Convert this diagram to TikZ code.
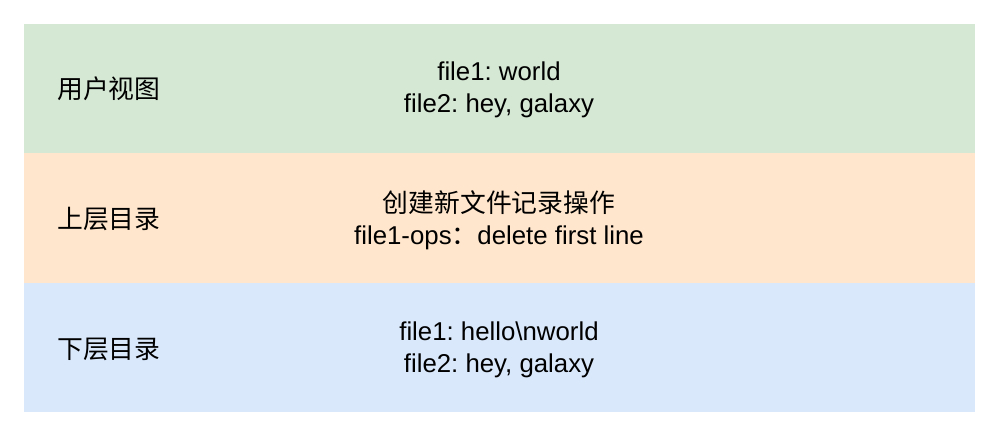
\documentclass[tikz,border=0pt]{standalone}
\usepackage{fontspec}
\setmainfont{Liberation Sans}
\newfontfamily\cjk{Noto Sans CJK SC}
\definecolor{bgreen}{HTML}{D5E8D4}
\definecolor{borange}{HTML}{FFE6CC}
\definecolor{bblue}{HTML}{DAE8FC}
\frenchspacing
\begin{document}
\begin{tikzpicture}[x=1pt,y=-1pt,
  band/.style={fill=#1,draw=none},
  lbl/.style={anchor=west,font=\cjk\fontsize{25.8}{30}\selectfont,inner sep=0pt},
  body/.style={align=center,font=\fontsize{25.8}{32}\selectfont\frenchspacing,inner sep=0pt}]
\useasboundingbox (0,0) rectangle (999,436);
\fill[white] (0,0) rectangle (999,436);
\path[band=bgreen] (24,24) rectangle (975,153);
\path[band=borange] (24,153) rectangle (975,283);
\path[band=bblue] (24,283) rectangle (975,412);
\node[lbl] (l1) at (57,89) {用户视图};
\node[lbl] (l2) at (57,219) {上层目录};
\node[lbl] (l3) at (57,349) {下层目录};
\node[body] (t1) at (499,90) {file1: world\\file2: hey, galaxy};
\node[body] (t2) at (499,220) {{\cjk 创建新文件记录操作}\\file1-ops{\cjk ：}delete first line};
\node[body] (t3) at (499,350) {file1: hello\textbackslash nworld\\file2: hey, galaxy};
\end{tikzpicture}
\end{document}
